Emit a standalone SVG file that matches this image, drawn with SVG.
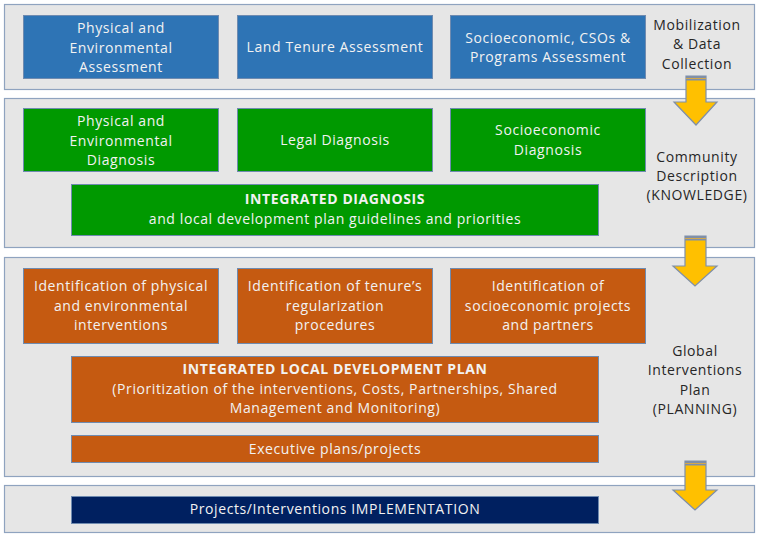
<svg xmlns="http://www.w3.org/2000/svg" width="758" height="534" viewBox="0 0 758 534">
<defs>
<style>
.band{fill:#E6E6E6;stroke:#8FA3BF;stroke-width:1.2}
.blue{fill:#2E74B5;stroke:#6F8BB0;stroke-width:1}
.green{fill:#009900;stroke:#6F8BB0;stroke-width:1}
.orange{fill:#C55A11;stroke:#6F8BB0;stroke-width:1}
.navy{fill:#002060;stroke:#6F8BB0;stroke-width:1}
.t{font-family:"Open Sans","Liberation Sans",sans-serif;font-size:14px;letter-spacing:0.6px;fill:#F2F2F2;text-anchor:middle}
.b{font-weight:bold}
.k{font-family:"Open Sans","Liberation Sans",sans-serif;font-size:14px;letter-spacing:0.6px;fill:#262626;text-anchor:middle}
.arr{fill:#FFC000;stroke:#7F8FA9;stroke-width:1.2;stroke-linejoin:miter}
.s1{fill:#7F8FA9}
.s2{fill:#D4A84A}
</style>
</defs>
<rect width="758" height="534" fill="#FFFFFF"/>
<g id="bands">
<rect class="band" x="4.5" y="4.5" width="750" height="85"/>
<rect class="band" x="4.5" y="98.5" width="750" height="149"/>
<rect class="band" x="4.5" y="257.5" width="750" height="219"/>
<rect class="band" x="4.5" y="485.5" width="750" height="47"/>
</g>
<g id="label-mobilization">
<text class="k" x="697" y="29.5">Mobilization</text>
<text class="k" x="697" y="49">&amp; Data</text>
<text class="k" x="697" y="68.5">Collection</text>
</g>
<g id="label-community">
<text class="k" x="697" y="162">Community</text>
<text class="k" x="697" y="181">Description</text>
<text class="k" x="697" y="200">(KNOWLEDGE)</text>
</g>
<g id="label-global">
<text class="k" x="695" y="355.5">Global</text>
<text class="k" x="695" y="375">Interventions</text>
<text class="k" x="695" y="394.5">Plan</text>
<text class="k" x="695" y="414">(PLANNING)</text>
</g>
<g id="n-phys-assess">
<rect class="blue" x="23.5" y="15.5" width="195" height="63"/>
<text class="t" x="121" y="33">Physical and</text>
<text class="t" x="121" y="52.5">Environmental</text>
<text class="t" x="121" y="72">Assessment</text>
</g>
<g id="n-land-tenure">
<rect class="blue" x="237.5" y="15.5" width="195" height="63"/>
<text class="t" x="335" y="52">Land Tenure Assessment</text>
</g>
<g id="n-socio-assess">
<rect class="blue" x="450.5" y="15.5" width="195" height="63"/>
<text class="t" x="548" y="42.5">Socioeconomic, CSOs &amp;</text>
<text class="t" x="548" y="62">Programs Assessment</text>
</g>
<g id="n-phys-diag">
<rect class="green" x="23.5" y="108.5" width="195" height="63"/>
<text class="t" x="121" y="126">Physical and</text>
<text class="t" x="121" y="145.5">Environmental</text>
<text class="t" x="121" y="165">Diagnosis</text>
</g>
<g id="n-legal-diag">
<rect class="green" x="237.5" y="108.5" width="195" height="63"/>
<text class="t" x="335" y="145">Legal Diagnosis</text>
</g>
<g id="n-socio-diag">
<rect class="green" x="450.5" y="108.5" width="195" height="63"/>
<text class="t" x="548" y="135">Socioeconomic</text>
<text class="t" x="548" y="154.5">Diagnosis</text>
</g>
<g id="n-integrated-diag">
<rect class="green" x="71.5" y="184.5" width="527" height="51"/>
<text class="t b" x="335" y="204">INTEGRATED DIAGNOSIS</text>
<text class="t" x="335" y="223.5">and local development  plan guidelines and priorities</text>
</g>
<g id="n-id-phys">
<rect class="orange" x="23.5" y="268.5" width="195" height="75"/>
<text class="t" x="121" y="291">Identification of physical</text>
<text class="t" x="121" y="310.5">and environmental</text>
<text class="t" x="121" y="330">interventions</text>
</g>
<g id="n-id-tenure">
<rect class="orange" x="237.5" y="268.5" width="195" height="75"/>
<text class="t" x="335" y="291">Identification of tenure’s</text>
<text class="t" x="335" y="310.5">regularization</text>
<text class="t" x="335" y="330">procedures</text>
</g>
<g id="n-id-socio">
<rect class="orange" x="450.5" y="268.5" width="195" height="75"/>
<text class="t" x="548" y="291">Identification of</text>
<text class="t" x="548" y="310.5">socioeconomic  projects</text>
<text class="t" x="548" y="330">and partners</text>
</g>
<g id="n-ildp">
<rect class="orange" x="71.5" y="356.5" width="527" height="66"/>
<text class="t b" x="335" y="374">INTEGRATED LOCAL DEVELOPMENT PLAN</text>
<text class="t" x="335" y="393.5">(Prioritization of the interventions, Costs, Partnerships, Shared</text>
<text class="t" x="335" y="413">Management and Monitoring)</text>
</g>
<g id="n-exec">
<rect class="orange" x="71.5" y="435.5" width="527" height="27"/>
<text class="t" x="335" y="453.5">Executive plans/projects</text>
</g>
<g id="n-impl">
<rect class="navy" x="71.5" y="496.5" width="527" height="27"/>
<text class="t" x="335" y="514">Projects/Interventions IMPLEMENTATION</text>
</g>
<g id="connectors">
<g id="arrow1">
<polygon class="arr" points="686,76 706,76 706,102 717,102 696,125 674,102 686,102"/>
<rect class="s1" x="686" y="76" width="20" height="2"/>
<rect class="s2" x="686" y="78" width="20" height="1"/>
<rect class="s1" x="686" y="79" width="20" height="1.5"/>
</g>
<g id="arrow2">
<polygon class="arr" points="685,236 706,236 706,266 717,266 695,286 673,266 685,266"/>
<rect class="s1" x="685" y="236" width="21" height="2"/>
<rect class="s2" x="685" y="238" width="21" height="1"/>
<rect class="s1" x="685" y="239" width="21" height="1.5"/>
</g>
<g id="arrow3">
<polygon class="arr" points="685,461 706,461 706,490 717,490 695,510 673,490 685,490"/>
<rect class="s1" x="685" y="461" width="21" height="2"/>
<rect class="s2" x="685" y="463" width="21" height="1"/>
<rect class="s1" x="685" y="464" width="21" height="1.5"/>
</g>
</g>
</svg>
